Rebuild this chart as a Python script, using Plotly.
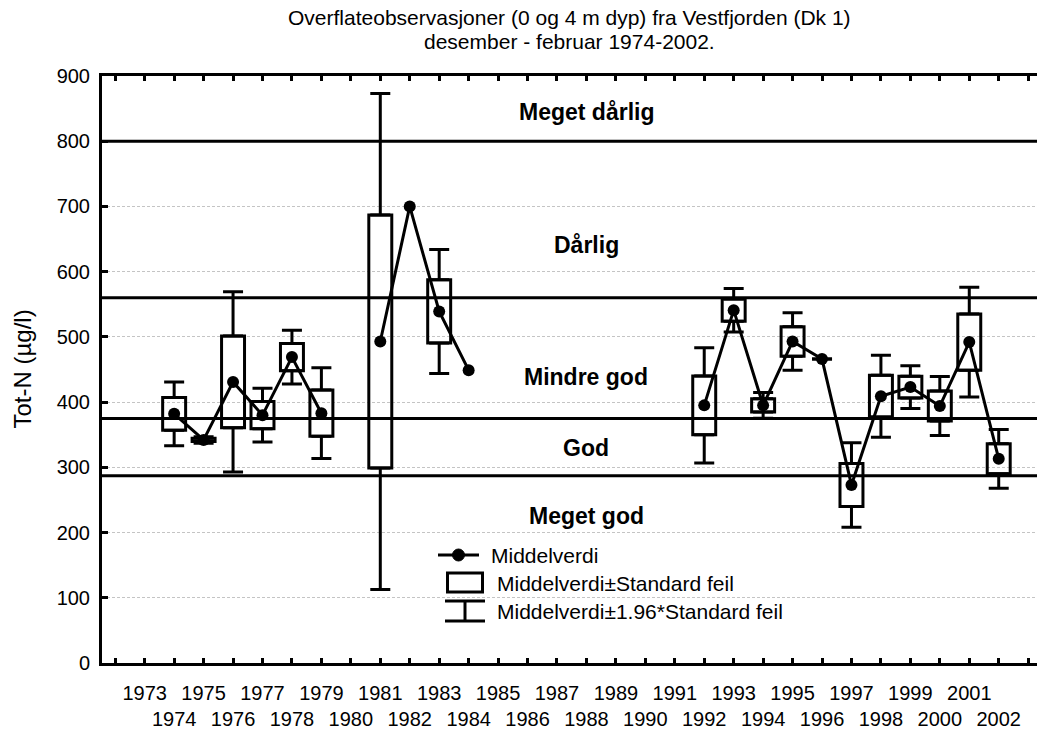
import plotly.graph_objects as go

# Winter surface observations of total nitrogen, Vestfjorden (Dk 1)
years = list(range(1973, 2003))
mean_vals = [None, 382, 342, 431, 380, 469, 383, None, 493, 700, 539, 449,
             None, None, None, None, None, None, None, 395, 541, 395, 493,
             466, 273, 409, 423, 394, 492, 313]
se_vals = [None, 25, 2.5, 70.5, 21, 21, 35.5, None, 194, None, 48.5, None,
           None, None, None, None, None, None, None, 45, 17, 10, 22.5,
           0, 33, 32, 16.7, 23, 43, 23]

# Class boundaries (µg/l) and class names
class_limits = [800, 560, 375, 287]
class_names = ["Meget dårlig", "Dårlig", "Mindre god", "God", "Meget god"]
class_label_y = [845, 641, 438, 330, 225]

title_lines = ["Overflateobservasjoner (0 og 4 m dyp) fra Vestfjorden (Dk 1)",
               "desember - februar 1974-2002."]
legend_labels = ["Middelverdi", "Middelverdi±Standard feil",
                 "Middelverdi±1.96*Standard feil"]

FONT = "Liberation Sans, Arial, sans-serif"
W, H = 1037, 729
ML, MR, MT, MB = 102, 0, 76, 66
PW, PH = W - ML - MR, H - MT - MB


def px(x):
    return (x - ML) / PW


def py(y):
    return (H - MB - y) / PH


# Series restricted to years that have a standard error
se_years = [y for y, s in zip(years, se_vals) if s is not None]
se_mean = [m for m, s in zip(mean_vals, se_vals) if s is not None]
se_only = [s for s in se_vals if s is not None]

box_years = [y for y, s in zip(se_years, se_only) if s > 0]
box_base = [m - s for m, s in zip(se_mean, se_only) if s > 0]
box_height = [2 * s for s in se_only if s > 0]

fig = go.Figure()

# Mean ± standard error boxes
fig.add_trace(go.Bar(
    x=box_years, y=box_height, base=box_base, width=0.78,
    marker=dict(color="rgba(0,0,0,0)", line=dict(color="black", width=3)),
    showlegend=False, hoverinfo="skip",
))

# Whiskers from the box edges out to mean ± 1.96 * SE
fig.add_trace(go.Scatter(
    x=se_years, y=[m + s for m, s in zip(se_mean, se_only)], mode="markers",
    marker=dict(size=1, opacity=0),
    error_y=dict(type="data", symmetric=False,
                 array=[0.96 * s for s in se_only],
                 arrayminus=[0] * len(se_only),
                 color="black", thickness=3, width=10),
    showlegend=False, hoverinfo="skip",
))
fig.add_trace(go.Scatter(
    x=se_years, y=[m - s for m, s in zip(se_mean, se_only)], mode="markers",
    marker=dict(size=1, opacity=0),
    error_y=dict(type="data", symmetric=False,
                 array=[0] * len(se_only),
                 arrayminus=[0.96 * s for s in se_only],
                 color="black", thickness=3, width=10),
    showlegend=False, hoverinfo="skip",
))

# Mean values
fig.add_trace(go.Scatter(
    x=years, y=mean_vals, mode="lines+markers",
    line=dict(color="black", width=3),
    marker=dict(symbol="circle", size=12, color="black"),
    connectgaps=False, showlegend=False,
))

shapes = []
for lim in class_limits:
    shapes.append(dict(type="line", xref="paper", x0=0, x1=1, yref="y",
                       y0=lim, y1=lim, line=dict(color="black", width=3),
                       layer="above"))

# Legend background and symbols
shapes.append(dict(type="rect", xref="paper", yref="paper",
                   x0=px(427), x1=px(800), y0=py(632), y1=py(539),
                   fillcolor="white", line=dict(width=0), layer="between"))
shapes.append(dict(type="line", xref="paper", yref="paper",
                   x0=px(438), x1=px(479), y0=py(555), y1=py(555),
                   line=dict(color="black", width=3)))
shapes.append(dict(type="circle", xref="paper", yref="paper",
                   x0=px(452.5), x1=px(464.5), y0=py(561), y1=py(549),
                   fillcolor="black", line=dict(color="black", width=1)))
shapes.append(dict(type="rect", xref="paper", yref="paper",
                   x0=px(447.5), x1=px(482.5), y0=py(592), y1=py(573),
                   line=dict(color="black", width=3)))
for yy in (601, 621):
    shapes.append(dict(type="line", xref="paper", yref="paper",
                       x0=px(445), x1=px(485), y0=py(yy), y1=py(yy),
                       line=dict(color="black", width=3)))
shapes.append(dict(type="line", xref="paper", yref="paper",
                   x0=px(465), x1=px(465), y0=py(601), y1=py(621),
                   line=dict(color="black", width=3)))

annotations = []
for name, yv in zip(class_names, class_label_y):
    annotations.append(dict(x=1988, y=yv, xref="x", yref="y", text=name,
                            showarrow=False,
                            font=dict(family=FONT, size=23, color="black",
                                      weight="bold")))

for lab, yy, xx in zip(legend_labels, (555, 583, 611), (489, 495, 495)):
    annotations.append(dict(x=px(xx), y=py(yy), xref="paper", yref="paper",
                            text=lab, showarrow=False, xanchor="left",
                            yanchor="middle",
                            font=dict(family=FONT, size=21, color="black")))

# Two-line chart title
for line, yy in zip(title_lines, (18, 42)):
    annotations.append(dict(x=0.5, y=py(yy), xref="paper", yref="paper",
                            text=line, showarrow=False, xanchor="center",
                            yanchor="middle",
                            font=dict(family=FONT, size=21, color="black")))

annotations.append(dict(x=px(22), y=0.5, xref="paper", yref="paper",
                        text="Tot-N (µg/l)", textangle=-90, showarrow=False,
                        xanchor="center", yanchor="middle",
                        font=dict(family=FONT, size=24, color="black")))

tick_vals = list(range(1972, 2004))
tick_text = []
for y in tick_vals:
    if y < 1973 or y > 2002:
        tick_text.append("")
    elif y % 2:
        tick_text.append(str(y))
    else:
        tick_text.append("<br>" + str(y))

fig.update_layout(
    width=W, height=H,
    margin=dict(l=ML, r=MR, t=MT, b=MB),
    paper_bgcolor="white", plot_bgcolor="white",
    font=dict(family=FONT, color="black"),
    shapes=shapes, annotations=annotations,
    barmode="overlay",
    xaxis=dict(range=[1971.55, 2003.3], tickmode="array",
               tickvals=tick_vals, ticktext=tick_text, tickangle=0,
               ticks="inside", ticklen=5, tickwidth=3, tickcolor="black",
               showline=True, linewidth=3, linecolor="black",
               mirror="ticks", showgrid=False, zeroline=False,
               tickfont=dict(family=FONT, size=20),
               ticklabelstandoff=10),
    yaxis=dict(range=[0, 900], tickmode="array",
               tickvals=list(range(0, 901, 100)),
               ticks="inside", ticklen=6, tickwidth=3, tickcolor="black",
               showline=True, linewidth=3, linecolor="black",
               showgrid=True, gridcolor="#c4c4c4", gridwidth=1,
               griddash="3px,2px", zeroline=False,
               tickfont=dict(family=FONT, size=20),
               ticklabelstandoff=5),
)

fig.write_html("out.html")
